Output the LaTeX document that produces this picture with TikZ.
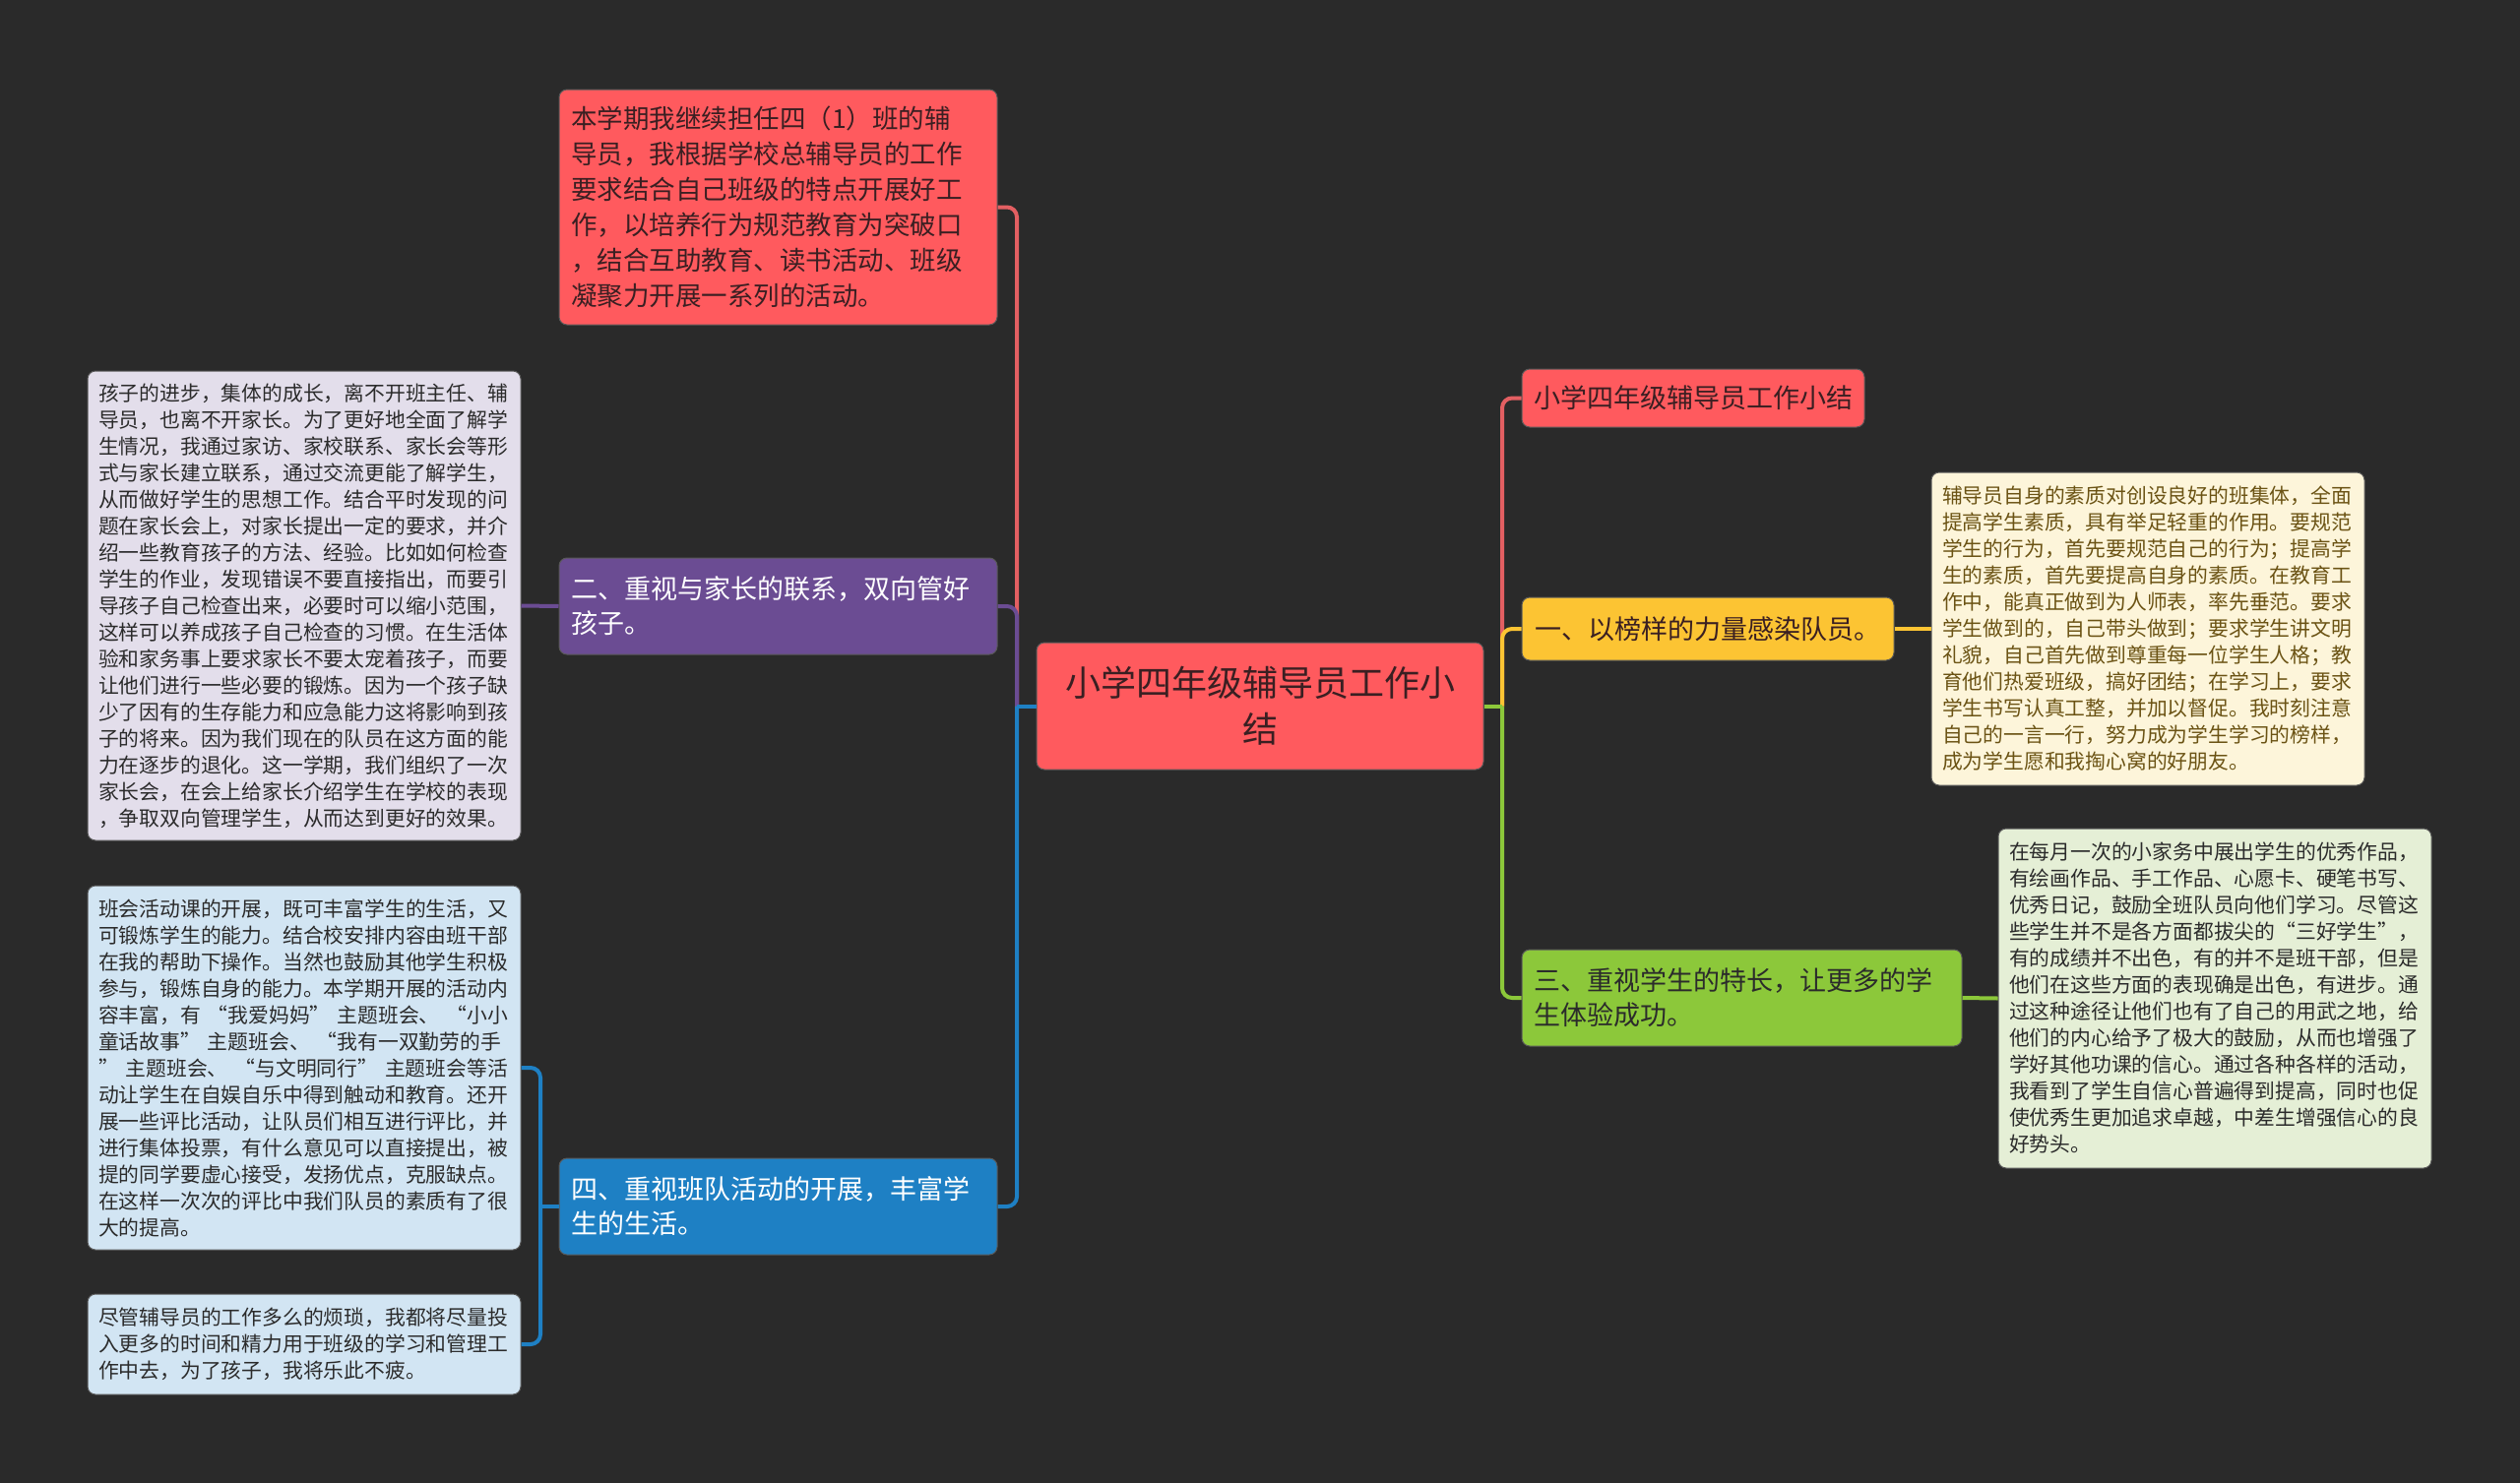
\documentclass[tikz,border=0pt]{standalone}
\usepackage{fontspec}
\setmainfont{Noto Sans CJK SC}
\definecolor{bgdark}{HTML}{2A2A2A}
\definecolor{coral}{HTML}{FF5A5E}
\definecolor{redline}{HTML}{E35F62}
\definecolor{grape}{HTML}{6B4C93}
\definecolor{ocean}{HTML}{1E80C4}
\definecolor{sun}{HTML}{FCC433}
\definecolor{lime}{HTML}{8CC83A}
\definecolor{lilac}{HTML}{E3DEEB}
\definecolor{sky}{HTML}{D2E5F3}
\definecolor{cream}{HTML}{FDF5DA}
\definecolor{mint}{HTML}{E5EFD6}
\definecolor{maroon}{HTML}{3A1F22}
\definecolor{inkdark}{HTML}{2B2B2B}
\definecolor{inkbrown}{HTML}{6B5314}

\begin{document}
\begin{tikzpicture}[x=1pt, y=-1pt,
  box/.style={rounded corners=8pt, draw=black!65, line width=1pt, inner ysep=0pt},
  topic/.style={box, inner xsep=12pt, align=left, font=\fontsize{27}{35}\selectfont},
  leaf/.style={box, inner xsep=11pt, align=left, text width=418pt, text=inkdark, font=\fontsize{20.8}{27}\selectfont},
  link/.style={line width=4pt, rounded corners=10pt}]
\useasboundingbox (0,0) rectangle (2560,1507);
\fill[bgdark] (0,0) rectangle (2560,1507);

\node[box, fill=coral, text=maroon, align=center, inner xsep=14pt, text width=426pt, minimum height=129pt, font=\fontsize{36}{47}\selectfont] (center) at (1280,717.5) {小学四年级辅导员工作小\\结};

\node[topic, fill=coral, text=maroon, text width=421pt, minimum height=239pt, font=\fontsize{26.5}{36}\selectfont] (intro) at (790.5,210.5) {本学期我继续担任四（1）班的辅\\导员，我根据学校总辅导员的工作\\要求结合自己班级的特点开展好工\\作，以培养行为规范教育为突破口\\，结合互助教育、读书活动、班级\\凝聚力开展一系列的活动。};
\node[topic, fill=grape, text=white, text width=421pt, minimum height=98pt] (parent2) at (790.5,616) {二、重视与家长的联系，双向管好\\孩子。};
\node[topic, fill=ocean, text=white, text width=421pt, minimum height=98pt] (parent4) at (790.5,1226) {四、重视班队活动的开展，丰富学\\生的生活。};

\node[topic, fill=coral, text=maroon, minimum width=348pt, minimum height=59pt] (title) at (1720,404.5) {小学四年级辅导员工作小结};
\node[topic, fill=sun, text=maroon, minimum width=378pt, minimum height=64pt] (one) at (1735,639) {一、以榜样的力量感染队员。};
\node[topic, fill=lime, text=inkdark, text width=423pt, minimum height=98pt] (three) at (1769.5,1014) {三、重视学生的特长，让更多的学\\生体验成功。};

\node[leaf, fill=lilac, minimum height=477pt] (twoleaf) at (309,615.5) {孩子的进步，集体的成长，离不开班主任、辅\\导员，也离不开家长。为了更好地全面了解学\\生情况，我通过家访、家校联系、家长会等形\\式与家长建立联系，通过交流更能了解学生，\\从而做好学生的思想工作。结合平时发现的问\\题在家长会上，对家长提出一定的要求，并介\\绍一些教育孩子的方法、经验。比如如何检查\\学生的作业，发现错误不要直接指出，而要引\\导孩子自己检查出来，必要时可以缩小范围，\\这样可以养成孩子自己检查的习惯。在生活体\\验和家务事上要求家长不要太宠着孩子，而要\\让他们进行一些必要的锻炼。因为一个孩子缺\\少了因有的生存能力和应急能力这将影响到孩\\子的将来。因为我们现在的队员在这方面的能\\力在逐步的退化。这一学期，我们组织了一次\\家长会，在会上给家长介绍学生在学校的表现\\，争取双向管理学生，从而达到更好的效果。};
\node[leaf, fill=sky, minimum height=370pt] (fourleafa) at (309,1085) {班会活动课的开展，既可丰富学生的生活，又\\可锻炼学生的能力。结合校安排内容由班干部\\在我的帮助下操作。当然也鼓励其他学生积极\\参与，锻炼自身的能力。本学期开展的活动内\\容丰富，有 “我爱妈妈” 主题班会、 “小小\\童话故事” 主题班会、 “我有一双勤劳的手\\” 主题班会、 “与文明同行” 主题班会等活\\动让学生在自娱自乐中得到触动和教育。还开\\展一些评比活动，让队员们相互进行评比，并\\进行集体投票，有什么意见可以直接提出，被\\提的同学要虚心接受，发扬优点，克服缺点。\\在这样一次次的评比中我们队员的素质有了很\\大的提高。};
\node[leaf, fill=sky, minimum height=102pt] (fourleafb) at (309,1366) {尽管辅导员的工作多么的烦琐，我都将尽量投\\入更多的时间和精力用于班级的学习和管理工\\作中去，为了孩子，我将乐此不疲。};
\node[leaf, fill=cream, text=inkbrown, minimum height=318pt] (oneleaf) at (2182,639) {辅导员自身的素质对创设良好的班集体，全面\\提高学生素质，具有举足轻重的作用。要规范\\学生的行为，首先要规范自己的行为；提高学\\生的素质，首先要提高自身的素质。在教育工\\作中，能真正做到为人师表，率先垂范。要求\\学生做到的，自己带头做到；要求学生讲文明\\礼貌，自己首先做到尊重每一位学生人格；教\\育他们热爱班级，搞好团结；在学习上，要求\\学生书写认真工整，并加以督促。我时刻注意\\自己的一言一行，努力成为学生学习的榜样，\\成为学生愿和我掏心窝的好朋友。};
\node[leaf, fill=mint, minimum height=345pt] (threeleaf) at (2250,1014.5) {在每月一次的小家务中展出学生的优秀作品，\\有绘画作品、手工作品、心愿卡、硬笔书写、\\优秀日记，鼓励全班队员向他们学习。尽管这\\些学生并不是各方面都拔尖的“三好学生”，\\有的成绩并不出色，有的并不是班干部，但是\\他们在这些方面的表现确是出色，有进步。通\\过这种途径让他们也有了自己的用武之地，给\\他们的内心给予了极大的鼓励，从而也增强了\\学好其他功课的信心。通过各种各样的活动，\\我看到了学生自信心普遍得到提高，同时也促\\使优秀生更加追求卓越，中差生增强信心的良\\好势头。};

\coordinate (lj) at (1033,717.5);
\coordinate (rj) at (1526,717.5);
\coordinate (bj) at (549,1226);

\draw[link, redline] (lj) |- (intro.east);
\draw[link, grape] (lj) |- (parent2.east);
\draw[link, ocean] (lj) |- (parent4.east);
\draw[link, ocean] (center.west) -- (lj);
\draw[link, redline] (rj) |- (title.west);
\draw[link, sun] (rj) |- (one.west);
\draw[link, lime] (rj) |- (three.west);
\draw[link, lime] (center.east) -- (rj);

\draw[link, grape] (parent2.west) -- (twoleaf.east);
\draw[link, ocean] (parent4.west) -- (bj);
\draw[link, ocean] (bj) |- (fourleafa.east);
\draw[link, ocean] (bj) |- (fourleafb.east);
\draw[link, sun] (one.east) -- (oneleaf.west);
\draw[link, lime] (three.east) -- (threeleaf.west);
\end{tikzpicture}
\end{document}
